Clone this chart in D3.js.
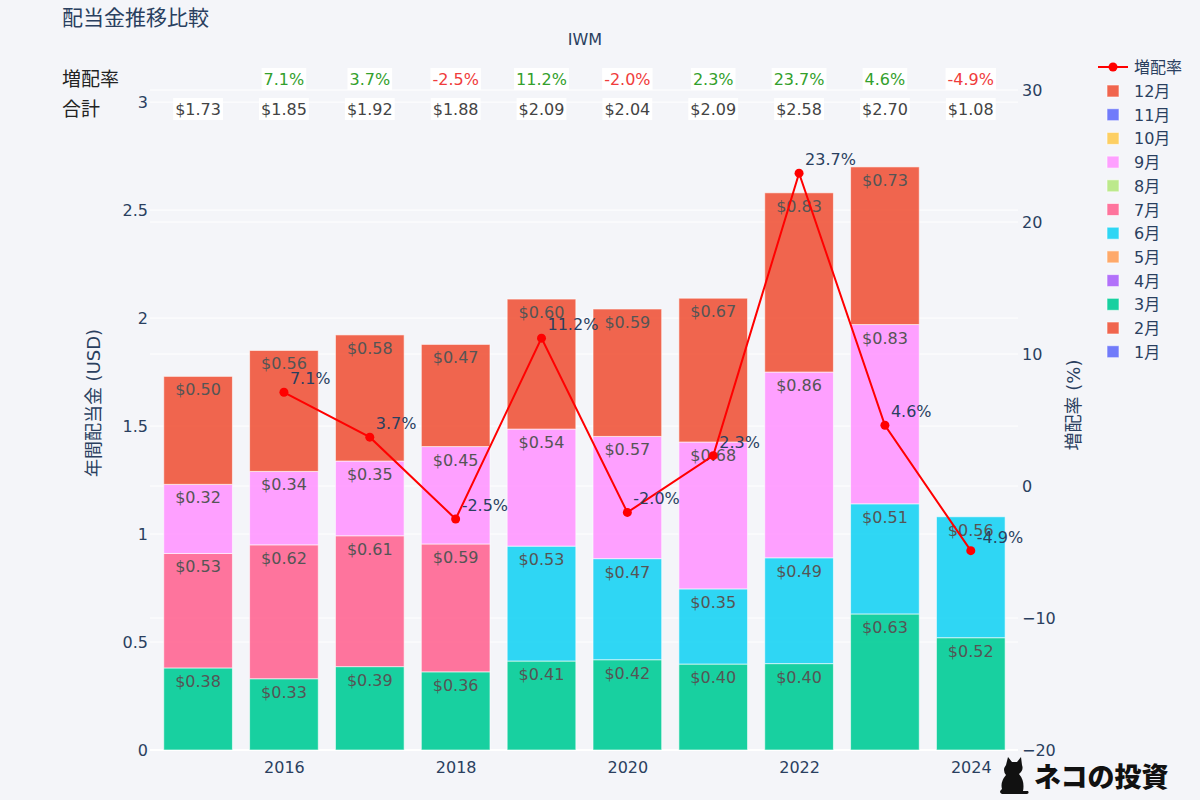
<!DOCTYPE html>
<html>
<head>
<meta charset="utf-8">
<script src="https://cdn.jsdelivr.net/npm/d3@7"></script>
<style>
  body { margin: 0; background: #f4f5f9; }
  svg { display: block; font-family: "DejaVu Sans", "Noto Sans CJK JP", sans-serif; }
</style>
</head>
<body>
<div id="chart"></div>
<script>
// data
var years = [2015, 2016, 2017, 2018, 2019, 2020, 2021, 2022, 2023, 2024];
var months = ["1月", "2月", "3月", "4月", "5月", "6月", "7月", "8月", "9月", "10月", "11月", "12月"];
var monthColors = ["#636efa", "#EF553B", "#00cc96", "#ab63fa", "#FFA15A", "#19d3f3",
                   "#FF6692", "#B6E880", "#FF97FF", "#FECB52", "#636efa", "#EF553B"];
var mar = [0.38, 0.33, 0.386, 0.362, 0.412, 0.418, 0.398, 0.40, 0.63, 0.52];
var jun = [0, 0, 0, 0, 0.532, 0.468, 0.348, 0.49, 0.51, 0.56];
var jul = [0.53, 0.62, 0.606, 0.592, 0, 0, 0, 0, 0, 0];
var sep = [0.32, 0.34, 0.346, 0.451, 0.542, 0.566, 0.680, 0.86, 0.83, 0];
var dec = [0.50, 0.56, 0.584, 0.473, 0.602, 0.590, 0.666, 0.83, 0.73, 0];
var totals = [1.73, 1.85, 1.92, 1.88, 2.09, 2.04, 2.09, 2.58, 2.70, 1.08];
var growth = [null, 7.1, 3.7, -2.5, 11.2, -2.0, 2.3, 23.7, 4.6, -4.9];
var leftTicks = [0, 0.5, 1, 1.5, 2, 2.5, 3];
var rightTicks = [-20, -10, 0, 10, 20, 30];
var xTicks = [2016, 2018, 2020, 2022, 2024];

var W = 1200, H = 800;
var plot = {left: 150, right: 1018, top: 90, bottom: 750};
var titleColor = "#2a3f5f";

var svg = d3.select("#chart").append("svg").attr("width", W).attr("height", H);
svg.append("rect").attr("width", W).attr("height", H).attr("fill", "#f4f5f9");

var xScale = d3.scaleLinear().domain([2014.44, 2024.55]).range([plot.left, plot.right]);
var yScale = d3.scaleLinear().domain([0, 3.056]).range([plot.bottom, plot.top]);
var y2Scale = d3.scaleLinear().domain([-20, 30]).range([plot.bottom, plot.top]);
var barW = (xScale(2016) - xScale(2015)) * 0.8;

// gridlines (both axes)
var grid = svg.append("g");
grid.selectAll(".g1").data(leftTicks).enter().append("line")
    .attr("x1", plot.left).attr("x2", plot.right)
    .attr("y1", d => yScale(d)).attr("y2", d => yScale(d))
    .attr("stroke", "#fff").attr("stroke-width", d => d == 0 ? 2 : 1);
grid.selectAll(".g2").data(rightTicks).enter().append("line")
    .attr("x1", plot.left).attr("x2", plot.right)
    .attr("y1", d => y2Scale(d)).attr("y2", d => y2Scale(d))
    .attr("stroke", "#fff").attr("stroke-width", 1);

// stacked bars
var rows = years.map(function(y, i) {
    var r = {year: y};
    months.forEach(m => r[m] = 0);
    r["3月"] = mar[i]; r["6月"] = jun[i]; r["7月"] = jul[i]; r["9月"] = sep[i]; r["12月"] = dec[i];
    return r;
});
var series = d3.stack().keys(months)(rows);

var bars = svg.append("g");
series.forEach(function(s, k) {
    var segs = s.filter(d => d[1] - d[0] > 0);
    bars.selectAll(".b" + k).data(segs).enter().append("rect")
        .attr("x", d => xScale(d.data.year) - barW / 2)
        .attr("width", barW)
        .attr("y", d => yScale(d[1]))
        .attr("height", d => yScale(d[0]) - yScale(d[1]))
        .attr("fill", monthColors[k]).attr("fill-opacity", 0.9)
        .attr("stroke", "#fff").attr("stroke-opacity", 0.6).attr("stroke-width", 1);
    bars.selectAll(".t" + k).data(segs).enter().append("text")
        .attr("x", d => xScale(d.data.year))
        .attr("y", d => yScale(d[1]) + 19)
        .attr("text-anchor", "middle")
        .attr("font-size", 16).attr("fill", "#555")
        .text(d => "$" + (d[1] - d[0]).toFixed(2));
});

// growth line on right axis
var gpts = years.map((y, i) => ({year: y, v: growth[i]})).filter(d => d.v !== null);
var line = d3.line().x(d => xScale(d.year)).y(d => y2Scale(d.v));
svg.append("path").datum(gpts).attr("d", line)
    .attr("fill", "none").attr("stroke", "#ff0000").attr("stroke-width", 2);
svg.selectAll(".pt").data(gpts).enter().append("circle")
    .attr("cx", d => xScale(d.year)).attr("cy", d => y2Scale(d.v)).attr("r", 4.5)
    .attr("fill", "#ff0000");
svg.selectAll(".pl").data(gpts).enter().append("text")
    .attr("x", d => xScale(d.year) + 6).attr("y", d => y2Scale(d.v) - 8)
    .attr("font-size", 16).attr("fill", titleColor)
    .text(d => d.v.toFixed(1) + "%");

// axes
var xAxis = svg.append("g").attr("transform", "translate(0," + plot.bottom + ")")
    .call(d3.axisBottom(xScale).tickValues(xTicks).tickFormat(d3.format("d")).tickSize(0).tickPadding(12));
var yAxis = svg.append("g").attr("transform", "translate(" + (plot.left - 2) + ",0)")
    .call(d3.axisLeft(yScale).tickValues(leftTicks).tickFormat(d => d).tickSize(0).tickPadding(0));
var y2Axis = svg.append("g").attr("transform", "translate(" + (plot.right + 4) + ",0)")
    .call(d3.axisRight(y2Scale).tickValues(rightTicks).tickFormat(d => d < 0 ? "\u2212" + Math.abs(d) : d).tickSize(0).tickPadding(0));
[xAxis, yAxis, y2Axis].forEach(function(a) {
    a.select(".domain").remove();
    a.selectAll("text").attr("font-size", 16).attr("fill", titleColor)
        .attr("font-family", "DejaVu Sans, Noto Sans CJK JP, sans-serif");
});

svg.append("text")
    .attr("transform", "translate(100,403) rotate(-90)")
    .attr("text-anchor", "middle").attr("font-size", 18).attr("fill", titleColor)
    .text("年間配当金 (USD)");
svg.append("text")
    .attr("transform", "translate(1080,405) rotate(-90)")
    .attr("text-anchor", "middle").attr("font-size", 18).attr("fill", titleColor)
    .text("増配率 (%)");

// titles
svg.append("text").attr("x", 62).attr("y", 25).attr("font-size", 21).attr("fill", titleColor)
    .text("配当金推移比較");
svg.append("text").attr("x", 585).attr("y", 45).attr("text-anchor", "middle")
    .attr("font-size", 16).attr("fill", titleColor).text("IWM");

// growth and total rows above plot
svg.append("text").attr("x", 62).attr("y", 86).attr("font-size", 19).attr("fill", "#222").text("増配率");
svg.append("text").attr("x", 62).attr("y", 116).attr("font-size", 19).attr("fill", "#222").text("合計");

function boxLabel(x, yc, txt, color) {
    var g = svg.append("g");
    var t = g.append("text").attr("x", x).attr("y", yc + 6).attr("text-anchor", "middle")
        .attr("font-size", 16).attr("fill", color).text(txt);
    var bb = t.node().getBBox();
    g.insert("rect", "text").attr("x", bb.x - 2).attr("y", yc - 11)
        .attr("width", bb.width + 4).attr("height", 22).attr("fill", "#fff");
}
years.forEach(function(y, i) {
    if (growth[i] !== null)
        boxLabel(xScale(y), 79, growth[i].toFixed(1) + "%", growth[i] >= 0 ? "#33a02c" : "#f03c3c");
    boxLabel(xScale(y), 109, "$" + totals[i].toFixed(2), "#444");
});

// legend
var leg = svg.append("g");
leg.append("line").attr("x1", 1098).attr("x2", 1128).attr("y1", 67).attr("y2", 67)
    .attr("stroke", "#ff0000").attr("stroke-width", 2);
leg.append("circle").attr("cx", 1113).attr("cy", 67).attr("r", 4.5).attr("fill", "#ff0000");
leg.append("text").attr("x", 1134).attr("y", 73).attr("font-size", 16).attr("fill", titleColor).text("増配率");
var legMonths = months.slice().reverse();
legMonths.forEach(function(m, j) {
    var yc = 91 + j * 23.7;
    var k = months.indexOf(m);
    leg.append("rect").attr("x", 1107).attr("y", yc - 6).attr("width", 12).attr("height", 12)
        .attr("fill", monthColors[k]).attr("fill-opacity", 0.9)
        .attr("stroke", "#fff").attr("stroke-opacity", 0.6);
    leg.append("text").attr("x", 1134).attr("y", yc + 6).attr("font-size", 16)
        .attr("fill", titleColor).text(m);
});

// watermark
var wm = svg.append("g").attr("transform", "translate(997,756)");
wm.append("path").attr("fill", "#111")
    .attr("d", "M9,9 L11,1 L15,6 L20,6 L24,1 L25,9 Q27,14 22,18 Q28,25 26,35 L31,35 Q33,38 28,38 L5,38 Q1,36 5,33 Q3,26 9,19 Q5,14 9,9 Z");
wm.append("text").attr("x", 37).attr("y", 31).attr("font-size", 27).attr("font-weight", 900)
    .attr("font-family", "Noto Sans CJK JP").attr("fill", "#111").text("ネコの投資");
</script>
</body>
</html>
